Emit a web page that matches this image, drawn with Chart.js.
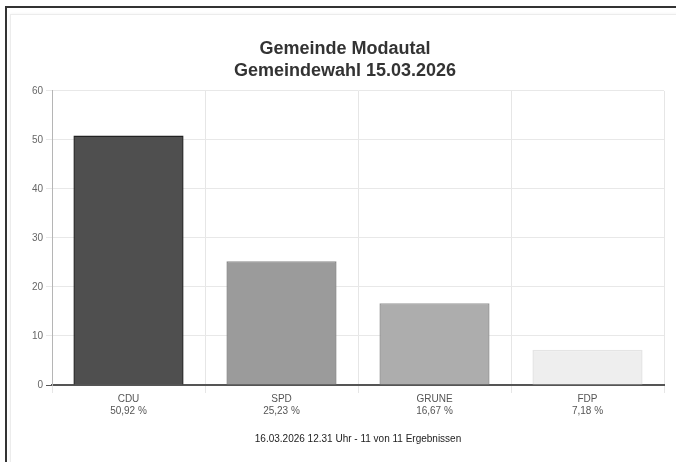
<!DOCTYPE html>
<html>
<head>
<meta charset="utf-8">
<script src="https://cdn.jsdelivr.net/npm/chart.js@4"></script>
<style>
  html, body { margin: 0; padding: 0; background: #fff; overflow: hidden; }
  #frame { position: absolute; left: 5px; top: 6px; width: 680px; height: 470px;
           border-top: 2px solid #333; border-left: 2px solid #333; }
  #card { position: absolute; left: 10px; top: 14px; width: 680px; height: 470px;
          border: 1px solid #ececec; box-shadow: 0 0 3px rgba(0,0,0,0.06); }
  #wrap { position: absolute; left: 0; top: 0; width: 676px; height: 462px; }
</style>
</head>
<body>
<div id="frame"></div>
<div id="card"></div>
<div id="wrap"><canvas id="wahl"></canvas></div>
<script>
// election result data
const parteien = ['CDU', 'SPD', 'GRUNE', 'FDP'];
const prozente = [50.92, 25.23, 16.67, 7.18];
const prozentText = ['50,92 %', '25,23 %', '16,67 %', '7,18 %'];
const yTicks = [0, 10, 20, 30, 40, 50, 60];

const fillColors = ['#4f4f4f', '#9b9b9b', '#adadad', '#eeeeee'];
const borderColors = ['#222222', '#8c8c8c', '#9a9a9a', '#e4e4e4'];

const narrow = "'Liberation Sans Narrow', 'Liberation Sans', Arial, sans-serif";

const labels = parteien.map((p, i) => [p, prozentText[i]]);

const ctx = document.getElementById('wahl').getContext('2d');
const chart = new Chart(ctx, {
  type: 'bar',
  data: {
    labels: labels,
    datasets: [{
      data: prozente,
      backgroundColor: fillColors,
      borderColor: borderColors,
      borderWidth: 1.5,
      categoryPercentage: 1,
      barPercentage: 0.72
    }]
  },
  options: {
    responsive: true,
    maintainAspectRatio: false,
    animation: false,
    layout: { padding: { left: 26, right: 12, top: 38, bottom: 17 } },
    plugins: {
      legend: { display: false },
      tooltip: { enabled: false },
      title: {
        display: true,
        text: ['Gemeinde Modautal', 'Gemeindewahl 15.03.2026'],
        color: '#333',
        font: { family: "'Liberation Sans', Arial, sans-serif", size: 18, weight: 'bold', lineHeight: 1.22 },
        padding: { top: 0, bottom: 9 }
      }
    },
    scales: {
      x: {
        grid: { color: '#e6e6e6', offset: true, tickLength: 8 },
        border: { color: '#555', width: 2 },
        ticks: { color: '#555', font: { family: narrow, size: 10, lineHeight: 1.2 }, padding: 0 },
        title: {
          display: true,
          text: '16.03.2026 12.31 Uhr - 11 von 11 Ergebnissen',
          color: '#222',
          font: { family: narrow, size: 10 },
          padding: { top: 16, bottom: 0 }
        }
      },
      y: {
        min: 0,
        max: 60,
        afterFit: function(scale) { scale.width = 26; },
        afterBuildTicks: function(scale) { scale.ticks = yTicks.map(v => ({ value: v })); },
        grid: {
          color: ctx => ctx.tick && ctx.tick.value === 0 ? '#555' : '#e8e8e8',
          tickLength: 6
        },
        border: { color: '#b5b5b5', width: 1 },
        ticks: { color: '#666', font: { family: narrow, size: 10 }, padding: 3 }
      }
    }
  }
});
</script>
</body>
</html>
